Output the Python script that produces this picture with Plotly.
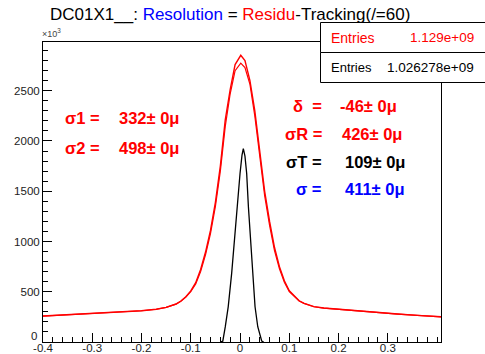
import plotly.graph_objects as go

# ---- data (counts in units of 10^3) ----
res_x = [-0.40, -0.36, -0.32, -0.28, -0.24, -0.20, -0.17, -0.15, -0.13, -0.12, -0.11, -0.10,
         -0.09, -0.08, -0.07, -0.06, -0.05, -0.04, -0.03, -0.02, -0.01, 0.0, 0.0015,
         0.01, 0.02, 0.03, 0.04, 0.05, 0.06, 0.07, 0.08, 0.09, 0.10, 0.11, 0.12,
         0.13, 0.15, 0.17, 0.20, 0.24, 0.28, 0.32, 0.36, 0.40, 0.408]
res_hist = [258, 268, 279, 290, 300, 311, 326, 345, 378, 408, 450, 508,
            590, 722, 895, 1110, 1390, 1750, 2210, 2512, 2760, 2850, 2853,
            2800, 2604, 2300, 1900, 1500, 1200, 940, 750, 610, 510, 455, 410,
            385, 352, 338, 325, 308, 292, 278, 265, 253, 251]
res_fit = [258, 268, 279, 290, 300, 311, 326, 345, 377, 406, 447, 500,
           578, 700, 870, 1078, 1348, 1700, 2145, 2470, 2700, 2772, 2775,
           2730, 2567, 2250, 1845, 1455, 1160, 910, 728, 595, 502, 451, 408,
           384, 351, 337, 324, 307, 291, 277, 264, 252, 250]

trk_x = [-0.040, -0.035, -0.030, -0.024, -0.017, -0.0115, -0.0067, 0.000, 0.004, 0.0067,
         0.010, 0.0135, 0.017, 0.021, 0.025, 0.0305, 0.036, 0.044, 0.048]
trk_y = [0, 8, 150, 350, 683, 1014, 1345, 1677, 1860, 1925,
         1850, 1677, 1345, 1014, 683, 351, 152, 10, 0]

x_ticks = [-0.4, -0.3, -0.2, -0.1, 0.0, 0.1, 0.2, 0.3]
x_labels = ["-0.4", "-0.3", "-0.2", "-0.1", "0", "0.1", "0.2", "0.3"]
y_ticks = [500, 1000, 1500, 2000, 2500]
y_labels = ["500", "1000", "1500", "2000", "2500"]
y_zero_label = "0"   # drawn separately, raised above the corner

entries_res = "1.129e+09"
entries_trk = "1.026278e+09"

# fit results: (label, value, colour)
left_rows = [("σ1 =", "332± 0μ", "red"), ("σ2 =", "498± 0μ", "red")]
right_rows = [("δ  =", "-46± 0μ", "red"), ("σR =", "426± 0μ", "red"),
              ("σT =", "109± 0μ", "black"), ("σ =", "411± 0μ", "blue")]

# ---- geometry ----
W, H = 485, 354
L, R, T, B = 43, 441, 42, 342
FONT = "Liberation Sans, Arial, sans-serif"


def px(xp):
    return (xp - L) / (R - L)


def py(yp):
    return (B - yp) / (B - T)


fig = go.Figure()
fig.add_trace(go.Scatter(x=res_x, y=res_hist, mode="lines",
                         line=dict(color="#ff0000", width=1.4), hoverinfo="skip"))
fig.add_trace(go.Scatter(x=res_x, y=res_fit, mode="lines",
                         line=dict(color="#ff0000", width=1.2), hoverinfo="skip"))
fig.add_trace(go.Scatter(x=trk_x, y=trk_y, mode="lines",
                         line=dict(color="black", width=1.3), hoverinfo="skip"))

annotations = []

# title
annotations.append(dict(
    x=px(48), y=py(14), xref="paper", yref="paper", xanchor="left", yanchor="middle",
    showarrow=False, font=dict(family=FONT, size=17, color="black"),
    text="DC01X1__: <span style='color:#0000ff'>Resolution</span> = "
         "<span style='color:#ff0000'>Residu</span>-Tracking(/=60)"))

# axis multiplier
annotations.append(dict(
    x=px(40), y=py(33), xref="paper", yref="paper", xanchor="left", yanchor="middle",
    showarrow=False, font=dict(family=FONT, size=9, color="#444"),
    text="×10<sup>3</sup>"))

# y-axis zero label
annotations.append(dict(
    x=px(39), y=py(336), xref="paper", yref="paper", xanchor="right", yanchor="middle",
    showarrow=False, font=dict(family=FONT, size=11.5, color="#222"), text=y_zero_label))

# fit result labels
for i, (lab, val, col) in enumerate(left_rows):
    yc = 118 + 30 * i
    annotations.append(dict(x=px(102), y=py(yc), xref="paper", yref="paper",
                            xanchor="right", yanchor="middle", showarrow=False,
                            font=dict(family=FONT, size=16.5, color=col), text="<b>" + lab + "</b>"))
    annotations.append(dict(x=px(117), y=py(yc), xref="paper", yref="paper",
                            xanchor="left", yanchor="middle", showarrow=False,
                            font=dict(family=FONT, size=16.5, color=col), text="<b>" + val + "</b>"))

right_val_x = [338, 340, 343, 342.5]
for i, (lab, val, col) in enumerate(right_rows):
    yc = 106 + 27.8 * i
    annotations.append(dict(x=px(323.5), y=py(yc), xref="paper", yref="paper",
                            xanchor="right", yanchor="middle", showarrow=False,
                            font=dict(family=FONT, size=16.5, color=col), text="<b>" + lab + "</b>"))
    annotations.append(dict(x=px(right_val_x[i]), y=py(yc), xref="paper", yref="paper",
                            xanchor="left", yanchor="middle", showarrow=False,
                            font=dict(family=FONT, size=16.5, color=col), text="<b>" + val + "</b>"))

# statistics boxes
shapes = [
    dict(type="rect", xref="paper", yref="paper", x0=px(320.5), x1=px(490), y0=py(52.5), y1=py(22.5),
         line=dict(color="black", width=1), fillcolor="white", layer="above"),
    dict(type="rect", xref="paper", yref="paper", x0=px(320.5), x1=px(490), y0=py(82.5), y1=py(52.5),
         line=dict(color="black", width=1), fillcolor="white", layer="above"),
]
annotations += [
    dict(x=px(329), y=py(37.5), xref="paper", yref="paper", xanchor="left", yanchor="middle",
         showarrow=False, font=dict(family=FONT, size=14, color="#ff0000"), text="Entries"),
    dict(x=px(476), y=py(37.5), xref="paper", yref="paper", xanchor="right", yanchor="middle",
         showarrow=False, font=dict(family=FONT, size=13.5, color="#ff0000"), text=entries_res),
    dict(x=px(329), y=py(67), xref="paper", yref="paper", xanchor="left", yanchor="middle",
         showarrow=False, font=dict(family=FONT, size=13, color="black"), text="Entries"),
    dict(x=px(476), y=py(67), xref="paper", yref="paper", xanchor="right", yanchor="middle",
         showarrow=False, font=dict(family=FONT, size=13.5, color="black"), text=entries_trk),
]

fig.update_layout(
    width=W, height=H,
    margin=dict(l=L, r=W - R, t=T, b=H - B, pad=0, autoexpand=False),
    paper_bgcolor="white", plot_bgcolor="white",
    showlegend=False,
    annotations=annotations,
    shapes=shapes,
    xaxis=dict(range=[-0.4, 0.408], tickmode="array", tickvals=x_ticks, ticktext=x_labels,
               ticks="inside", ticklen=9, tickwidth=1, tickcolor="black",
               minor=dict(tickmode="linear", tick0=-0.4, dtick=0.02, ticks="inside",
                          ticklen=5, tickwidth=1, tickcolor="black"),
               showline=True, linecolor="black", linewidth=1, mirror=True,
               showgrid=False, zeroline=False, automargin=False, ticklabelstandoff=-5,
               tickfont=dict(family=FONT, size=11.5, color="#222")),
    yaxis=dict(range=[0, 2985], tickmode="array", tickvals=y_ticks, ticktext=y_labels,
               ticks="inside", ticklen=9, tickwidth=1, tickcolor="black",
               minor=dict(tickmode="linear", tick0=0, dtick=100, ticks="inside",
                          ticklen=5, tickwidth=1, tickcolor="black"),
               showline=True, linecolor="black", linewidth=1, mirror=True,
               showgrid=False, zeroline=False, automargin=False,
               tickfont=dict(family=FONT, size=11.5, color="#222")),
)

fig.write_html("out.html")
